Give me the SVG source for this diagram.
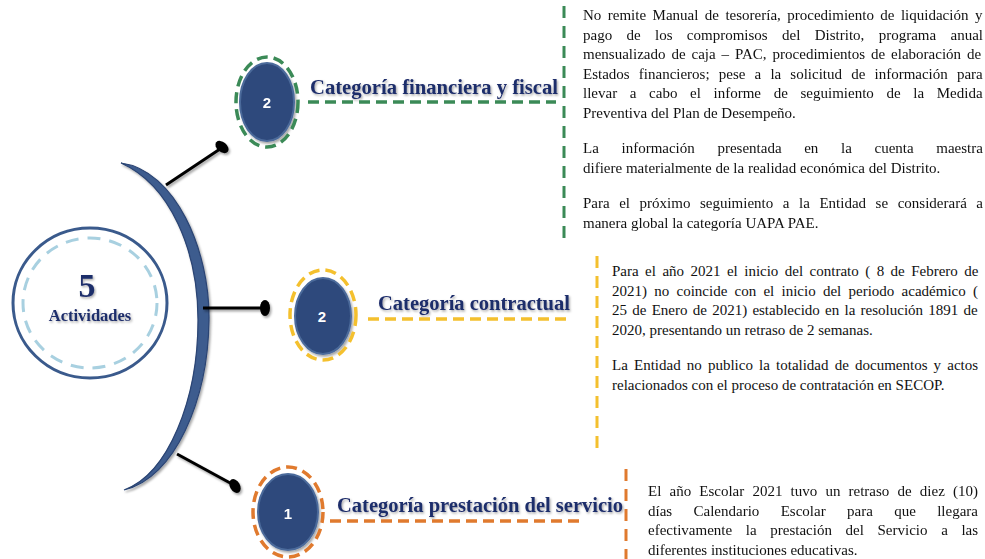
<svg xmlns="http://www.w3.org/2000/svg" width="985" height="559" viewBox="0 0 985 559">
<defs>
<filter id="sh" x="-20%" y="-20%" width="140%" height="160%">
<feDropShadow dx="1.5" dy="2" stdDeviation="1" flood-color="#000" flood-opacity="0.35"/>
</filter>
<filter id="tsh" x="-5%" y="-20%" width="110%" height="160%">
<feDropShadow dx="1.2" dy="1.5" stdDeviation="0.8" flood-color="#000" flood-opacity="0.35"/>
</filter>
<style>
.body{font-family:"Liberation Serif","Times New Roman",serif;font-size:15px;fill:#111}
.title{font-family:"Liberation Serif","Times New Roman",serif;font-weight:bold;fill:#1e2d6b}
.num{font-family:"Liberation Sans",Arial,sans-serif;font-weight:bold;font-size:15px;fill:#fff;text-anchor:middle}
.nfill{fill:#2e4a7b;stroke:#4b6a9b;stroke-width:2}
.conn{stroke:#000;stroke-width:3;fill:none}
.dot{fill:#000}
.g{stroke:#3b8a57}
.y{stroke:#f4c02e}
.o{stroke:#e07a2e}
.dash{fill:none;stroke-width:3.5;stroke-dasharray:11 6}
.vdash{fill:none;stroke-width:3;stroke-dasharray:12 8}
</style>
</defs>
<rect width="985" height="559" fill="#fff"/>

<g id="center">
<ellipse cx="90" cy="303" rx="77" ry="75" fill="#fff" stroke="#3a5a8c" stroke-width="3"/>
<ellipse cx="90" cy="303" rx="67" ry="65" fill="none" stroke="#a8d0e0" stroke-width="3" stroke-dasharray="13 9"/>
<text x="87" y="297" font-family="Liberation Serif,serif" font-weight="bold" font-size="34" fill="#1e2d6b" text-anchor="middle" filter="url(#tsh)">5</text>
<text x="90" y="321" font-family="Liberation Serif,serif" font-weight="bold" font-size="16.5" fill="#1e2d6b" text-anchor="middle" filter="url(#tsh)">Actividades</text>
</g>

<g id="bracket">
<path d="M 121 163 C 175 170, 210 250, 209 320 C 208 400, 175 478, 124 490 C 168 474, 198 400, 198 320 C 198 250, 170 185, 121 163 Z" fill="#3d5b8e" stroke="#2a4473" stroke-width="1.2" filter="url(#sh)"/>
</g>

<g id="connectors" filter="url(#sh)">
<line class="conn" x1="166" y1="185" x2="220" y2="149"/>
<ellipse class="dot" cx="222" cy="147" rx="5" ry="7.5" transform="rotate(-50 222 147)"/>
<line class="conn" x1="203" y1="308" x2="262" y2="308"/>
<ellipse class="dot" cx="265" cy="308" rx="5" ry="8"/>
<line class="conn" x1="177" y1="454" x2="232" y2="484"/>
<ellipse class="dot" cx="235" cy="486" rx="5" ry="7.5" transform="rotate(-30 235 486)"/>
</g>

<g id="node-financiera">
<ellipse class="nfill" cx="267" cy="102" rx="27" ry="39" filter="url(#sh)"/>
<ellipse class="dash g" cx="267" cy="102" rx="31" ry="45"/>
<text class="num" x="267" y="108">2</text>
<text class="title" x="310" y="94" font-size="20" textLength="248" lengthAdjust="spacingAndGlyphs" filter="url(#tsh)">Categoría financiera y fiscal</text>
<line class="dash g" x1="308" y1="102" x2="556" y2="102"/>
<line class="vdash g" x1="564" y1="6" x2="564" y2="244"/>
<text class="body">
<tspan x="583" y="20" word-spacing="2.7">No remite Manual de tesorería, procedimiento de liquidación y</tspan>
<tspan x="583" y="39.5" word-spacing="10.6">pago de los compromisos del Distrito, programa anual</tspan>
<tspan x="583" y="59" word-spacing="2.2">mensualizado de caja – PAC, procedimientos de elaboración de</tspan>
<tspan x="583" y="78.5" word-spacing="5.4">Estados financieros; pese a la solicitud de información para</tspan>
<tspan x="583" y="98" word-spacing="8.9">llevar a cabo el informe de seguimiento de la Medida</tspan>
<tspan x="583" y="117.5">Preventiva del Plan de Desempeño.</tspan>
<tspan x="583" y="153" word-spacing="18.9">La información presentada en la cuenta maestra</tspan>
<tspan x="583" y="172.5">difiere materialmente de la realidad económica del Distrito.</tspan>
<tspan x="583" y="208" word-spacing="5.8">Para el próximo seguimiento a la Entidad se considerará a</tspan>
<tspan x="583" y="227.5">manera global la categoría UAPA PAE.</tspan>
</text>
</g>

<g id="node-contractual">
<ellipse class="nfill" cx="323" cy="316" rx="28" ry="38" filter="url(#sh)"/>
<ellipse class="dash y" cx="323" cy="315" rx="33" ry="45"/>
<text class="num" x="322" y="322">2</text>
<text class="title" x="378" y="310" font-size="20.5" textLength="192" lengthAdjust="spacingAndGlyphs" filter="url(#tsh)">Categoría contractual</text>
<line class="dash y" x1="368" y1="319" x2="568" y2="319"/>
<line class="vdash y" x1="597" y1="256" x2="597" y2="452"/>
<text class="body">
<tspan x="612" y="276" word-spacing="2.7">Para el año 2021 el inicio del contrato ( 8 de Febrero de</tspan>
<tspan x="612" y="295.5" word-spacing="3.5">2021) no coincide con el inicio del periodo académico (</tspan>
<tspan x="612" y="315" word-spacing="1.5">25 de Enero de 2021) establecido en la resolución 1891 de</tspan>
<tspan x="612" y="334.5">2020, presentando un retraso de 2 semanas.</tspan>
<tspan x="612" y="370" word-spacing="2.4">La Entidad no publico la totalidad de documentos y actos</tspan>
<tspan x="612" y="389.5">relacionados con el proceso de contratación en SECOP.</tspan>
</text>
</g>

<g id="node-servicio">
<ellipse class="nfill" cx="288" cy="512" rx="30" ry="38" filter="url(#sh)"/>
<ellipse class="dash o" cx="288" cy="512" rx="35" ry="45"/>
<text class="num" x="288" y="519">1</text>
<text class="title" x="337" y="512" font-size="20" textLength="286" lengthAdjust="spacingAndGlyphs" filter="url(#tsh)">Categoría prestación del servicio</text>
<line class="dash o" x1="330" y1="521" x2="585" y2="521"/>
<line class="vdash o" x1="626" y1="469" x2="626" y2="559"/>
<text class="body">
<tspan x="648" y="496" word-spacing="4.4">El año Escolar 2021 tuvo un retraso de diez (10)</tspan>
<tspan x="648" y="515.5" word-spacing="17.6">días Calendario Escolar para que llegara</tspan>
<tspan x="648" y="535" word-spacing="9.9">efectivamente la prestación del Servicio a las</tspan>
<tspan x="648" y="554.5">diferentes instituciones educativas.</tspan>
</text>
</g>
</svg>
